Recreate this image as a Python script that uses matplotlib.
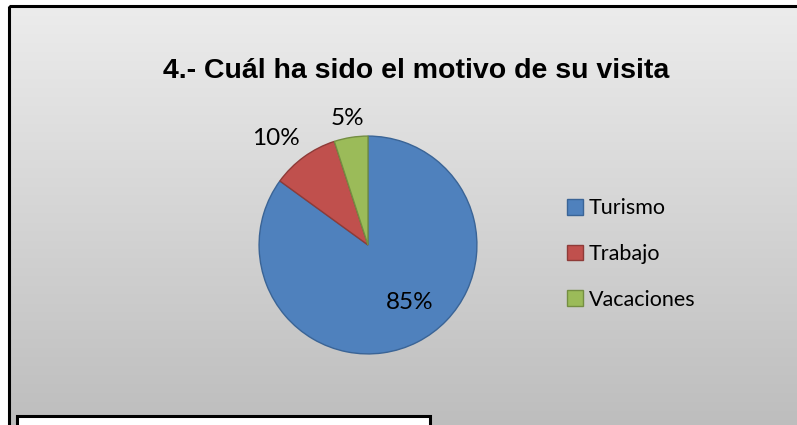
import numpy as np
import matplotlib.pyplot as plt
from matplotlib.colors import LinearSegmentedColormap
from matplotlib.patches import Rectangle

categories = ["Turismo", "Trabajo", "Vacaciones"]
values = [85, 10, 5]
colors = ["#4F81BD", "#C0504D", "#9BBB59"]
edge_colors = ["#3A6496", "#8E3B38", "#748E42"]
title = "4.- Cuál ha sido el motivo de su visita"

# label placement (radius fraction, angle nudge in degrees), Excel "best fit" look
label_dist = [0.65, 1.29, 1.18]
label_nudge = [9, 5, 0]

W, H = 797, 425
fig = plt.figure(figsize=(W / 100, H / 100), dpi=100)
fig.patch.set_facecolor("white")

# background: frame with grey gradient (pixel coords)
bg = fig.add_axes([0, 0, 1, 1])
bg.set_xlim(0, W)
bg.set_ylim(H, 0)
bg.axis("off")
grad = np.linspace(0, 1, 256).reshape(-1, 1)
cmap = LinearSegmentedColormap.from_list("g", ["#ececec", "#bdbdbd"])
bg.imshow(grad, cmap=cmap, extent=(9, W + 5, H + 5, 6), aspect="auto", zorder=0)
bg.add_patch(Rectangle((9, 6), W, H, fill=False, edgecolor="black", lw=2.2, zorder=1))
bg.add_patch(Rectangle((17, 416), 413, 20, facecolor="white", edgecolor="black", lw=2.2, zorder=2))

fig.text(416 / W, 1 - 71 / H, title, ha="center", va="center",
         fontsize=20.5, fontweight="bold", family="Liberation Sans")

# pie
cx, cy, r = 368, 245, 110
ax = fig.add_axes([(cx - r) / W, 1 - (cy + r) / H, 2 * r / W, 2 * r / H])
wedges, _ = ax.pie(values, colors=colors, startangle=90, counterclock=False,
                   wedgeprops=dict(linewidth=1.0))
for w, ec in zip(wedges, edge_colors):
    w.set_edgecolor(ec)
for w, v, d, n in zip(wedges, values, label_dist, label_nudge):
    th = np.deg2rad((w.theta1 + w.theta2) / 2 + n)
    ax.text(d * np.cos(th), d * np.sin(th), f"{v}%", ha="center", va="center",
            fontsize=17.5, family="Lato")
ax.set_xlim(-1.01, 1.01)
ax.set_ylim(-1.01, 1.01)
ax.set_aspect("equal")
ax.axis("off")

fig.legend(wedges, categories, loc="center left",
           bbox_to_anchor=(567 / W, 1 - 254 / H), bbox_transform=fig.transFigure,
           frameon=False, borderpad=0, borderaxespad=0,
           handlelength=0.75, handleheight=0.75, handletextpad=0.25,
           labelspacing=1.2, prop={"family": "Lato", "size": 15.5})

fig.savefig("out.png", dpi=100)
